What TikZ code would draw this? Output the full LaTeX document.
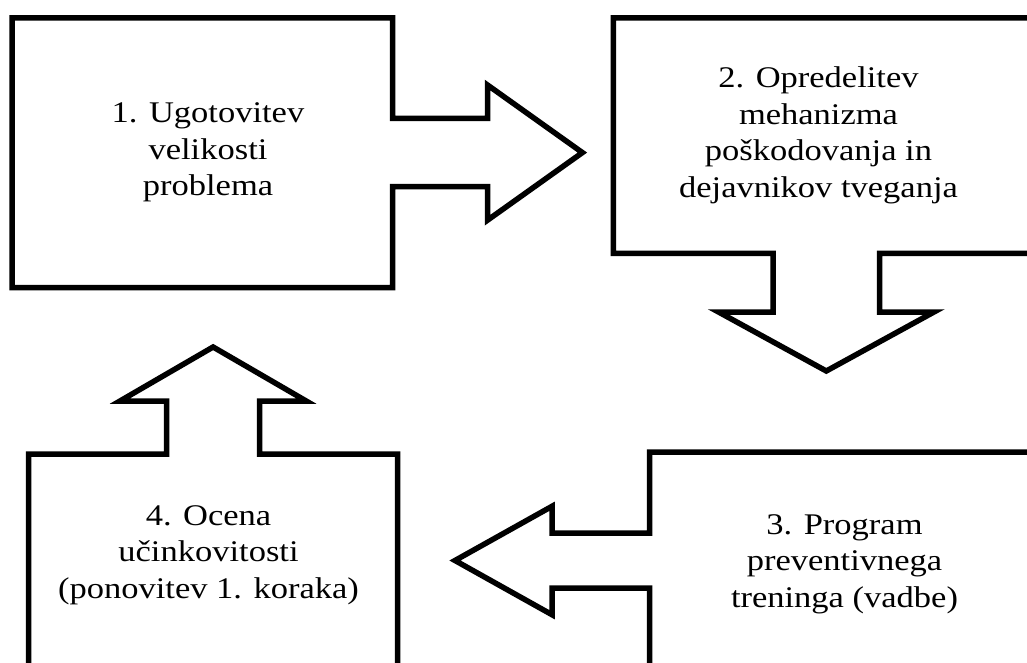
\documentclass[tikz,border=0pt]{standalone}
\usepackage{fontspec}
\setmainfont{Liberation Serif}[FakeStretch=1.15]
\begin{document}
\begin{tikzpicture}[x=1pt,y=-1pt,
  shapeline/.style={draw=black,line width=5.5pt,line join=miter,fill=white},
  label/.style={align=center,inner sep=0pt,anchor=base,font=\fontsize{30}{36.5}\selectfont}]
\useasboundingbox (0,0) rectangle (1027,663);
\clip (0,0) rectangle (1027,663);
% box 1 with right arrow
\draw[shapeline] (12,18) -- (392.5,18) -- (392.5,118.5) -- (487.5,118.5) -- (487.5,85)
  -- (582.4,152.6) -- (487.5,220.2) -- (487.5,186.7) -- (392.5,186.7) -- (392.5,287.5)
  -- (12,287.5) -- cycle;
% box 2 with down arrow
\draw[shapeline] (613.3,18) -- (1040,18) -- (1040,253.3) -- (879.5,253.3) -- (879.5,312)
  -- (934,312) -- (826.3,371) -- (718.5,312) -- (773,312) -- (773,253.3) -- (613.3,253.3) -- cycle;
% box 3 with left arrow
\draw[shapeline] (649.5,452) -- (1040,452) -- (1040,690) -- (649.5,690) -- (649.5,588)
  -- (552,588) -- (552,614.7) -- (455,560.5) -- (552,506.3) -- (552,533) -- (649.5,533) -- cycle;
% box 4 with up arrow
\draw[shapeline] (28.5,454) -- (166.7,454) -- (166.7,401) -- (120,401) -- (213.1,347)
  -- (306.2,401) -- (259.5,401) -- (259.5,454) -- (397.5,454) -- (397.5,690) -- (28.5,690) -- cycle;
\node[label] (t1) at (208,196) {1. Ugotovitev\\velikosti\\problema};
\node[label] (t2) at (818.5,197) {2. Opredelitev\\mehanizma\\poškodovanja in\\dejavnikov tveganja};
\node[label] (t3) at (844.5,607) {3. Program\\preventivnega\\treninga (vadbe)};
\node[label] (t4) at (208.5,598.3) {4. Ocena\\učinkovitosti\\(ponovitev 1. koraka)};
\end{tikzpicture}
\end{document}
